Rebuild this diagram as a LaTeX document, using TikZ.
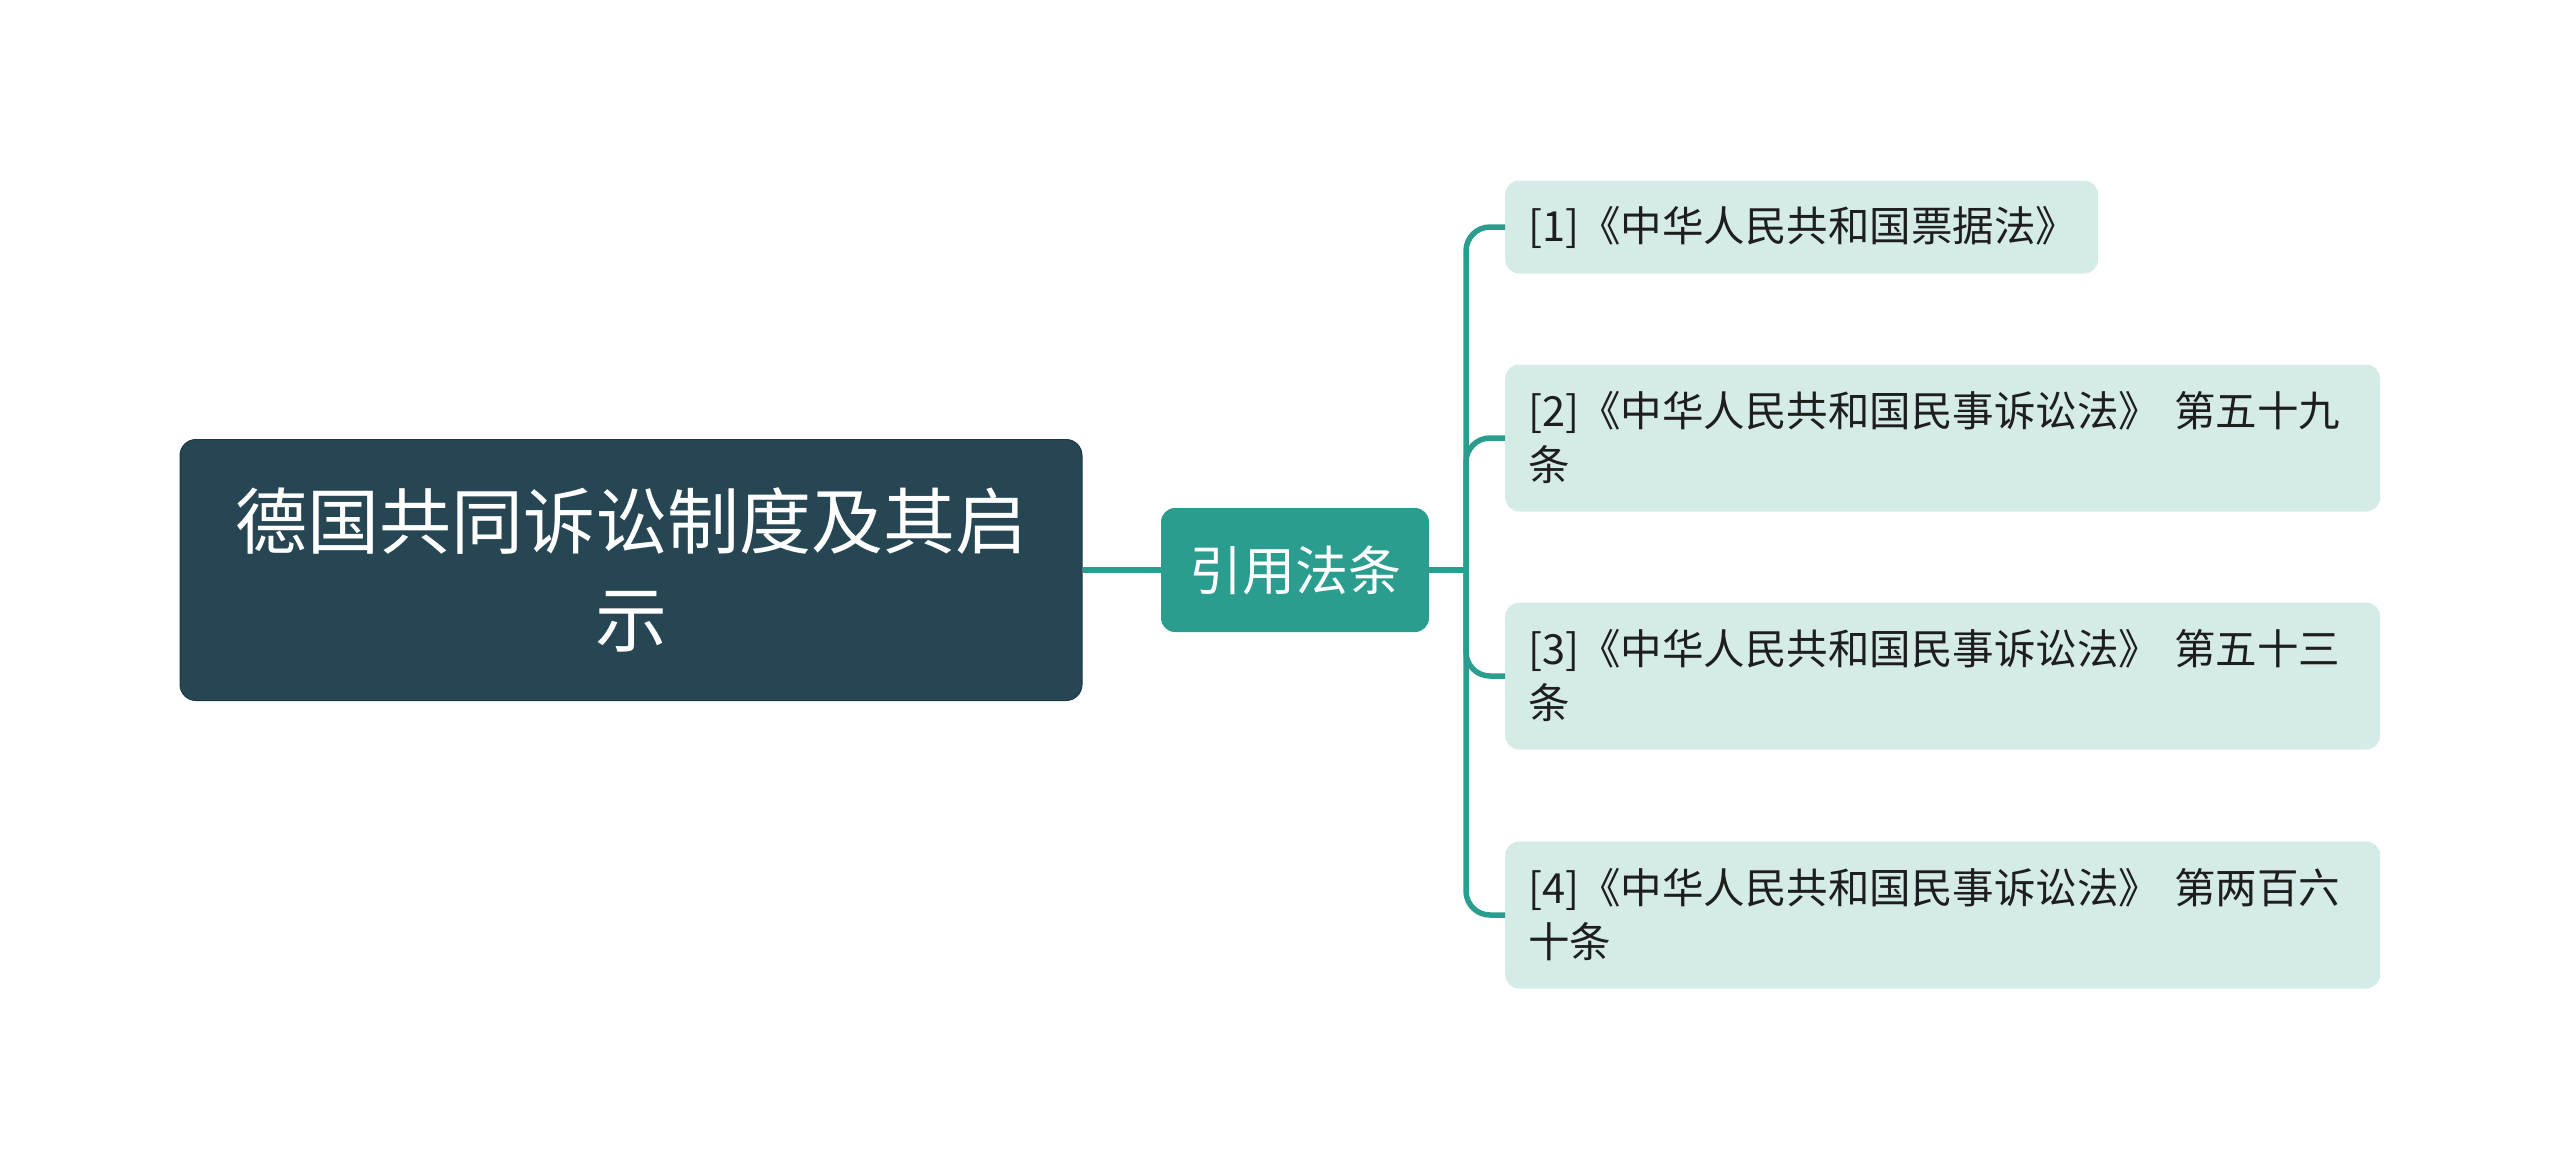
\documentclass[tikz,border=0pt]{standalone}
\usepackage{fontspec}
\newfontfamily\cjk{Noto Sans CJK SC}
\usetikzlibrary{calc}
\definecolor{raiz}{HTML}{264653}
\definecolor{verde}{HTML}{2A9D8F}
\definecolor{hoja}{HTML}{D5EBE8}
\definecolor{texto}{HTML}{1E1E1E}

\begin{document}
\begin{tikzpicture}[x=1pt,y=-1pt,
  raizbox/.style={fill=raiz,draw=raiz!80!black,line width=1pt,rounded corners=16pt,
    minimum width=902pt,minimum height=261pt,text=white,align=center,
    font=\cjk\fontsize{72}{98}\selectfont},
  medio/.style={fill=verde,rounded corners=14pt,minimum width=268pt,minimum height=124pt,
    text=white,font=\cjk\fontsize{53}{60}\selectfont},
  hojabox/.style={fill=hoja,rounded corners=14pt,anchor=west,align=left,inner xsep=23pt,
    text=texto,font=\cjk\fontsize{41.5}{54}\selectfont},
  enlace/.style={draw=verde,line width=5.5pt,rounded corners=24pt}]
  \useasboundingbox (0,0) rectangle (2560,1167);
  % nodos
  \node[raizbox] (tema) at (631,570) {德国共同诉讼制度及其启\\示};
  \node[medio] (ley) at (1295,570) {引用法条};
  \node[hojabox,minimum width=593pt,minimum height=93pt,text width=547pt] (l1) at (1505,227)
    {[1]《中华人民共和国票据法》};
  \node[hojabox,minimum width=875pt,minimum height=147pt,text width=829pt] (l2) at (1505,438)
    {[2]《中华人民共和国民事诉讼法》~第五十九\\条};
  \node[hojabox,minimum width=875pt,minimum height=147pt,text width=829pt] (l3) at (1505,676)
    {[3]《中华人民共和国民事诉讼法》~第五十三\\条};
  \node[hojabox,minimum width=875pt,minimum height=147pt,text width=829pt] (l4) at (1505,915)
    {[4]《中华人民共和国民事诉讼法》~第两百六\\十条};
  % conectores
  \coordinate (fork) at (1466,570);
  \draw[enlace] (tema.east) -- (ley.west);
  \draw[enlace] (ley.east) -- (fork);
  \foreach \n in {l1,l2,l3,l4} \draw[enlace] (fork) |- (\n.west);
\end{tikzpicture}
\end{document}
